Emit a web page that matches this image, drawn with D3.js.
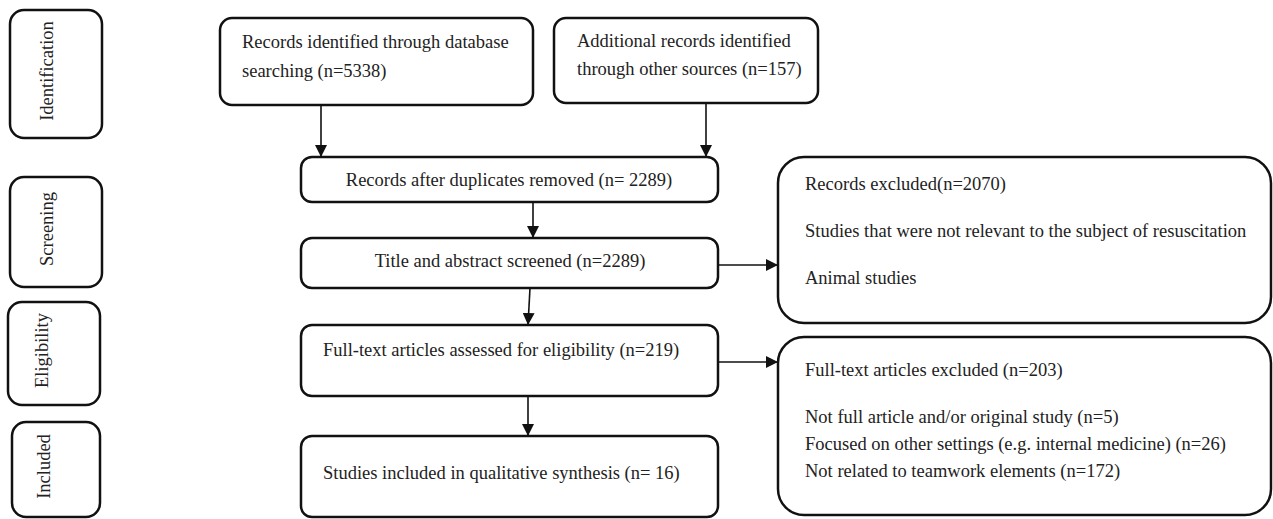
<!DOCTYPE html>
<html>
<head>
<meta charset="utf-8">
<script src="https://cdn.jsdelivr.net/npm/d3@7"></script>
<style>
  body { margin: 0; background: #fff; }
  svg { display: block; }
</style>
</head>
<body>
<div id="chart"></div>
<script>
// ---- content ----
const phaseLabels = ["Identification", "Screening", "Eligibility", "Included"];

const sourceLines = [
  ["Records identified through database", "searching (n=5338)"],
  ["Additional records identified", "through other sources (n=157)"]
];

const flowLabels = [
  "Records after duplicates removed (n= 2289)",
  "Title and abstract screened (n=2289)",
  "Full-text articles assessed for eligibility  (n=219)",
  "Studies included in qualitative synthesis (n= 16)"
];

const exclusionLines = [
  ["Records excluded(n=2070)",
   "Studies that were not relevant to the subject of resuscitation",
   "Animal studies"],
  ["Full-text articles excluded (n=203)",
   "Not full article and/or original study (n=5)",
   "Focused on other settings (e.g. internal medicine) (n=26)",
   "Not related to teamwork elements (n=172)"]
];

// ---- layout ----
const W = 1273, H = 519;
const FONT = "'Liberation Serif', 'Times New Roman', serif";
const FS = 18.5;
const ink = "#111";

const phaseBoxes = [
  {x: 10, y: 10, w: 92, h: 128, tx: 53},
  {x: 10, y: 177, w: 92, h: 110, tx: 53},
  {x: 8, y: 302, w: 92, h: 103, tx: 48},
  {x: 12, y: 422, w: 88, h: 95, tx: 50}
];
const sourceBoxes = [
  {x: 220, y: 18, w: 313, h: 87, tx: 242, ty: [48, 77]},
  {x: 554, y: 18, w: 264, h: 85, tx: 577, ty: [47, 75]}
];
const flowBoxes = [
  {x: 301, y: 157, w: 417, h: 45, anchor: "middle", tx: 509, ty: 186},
  {x: 301, y: 238, w: 417, h: 50, anchor: "middle", tx: 510, ty: 267},
  {x: 301, y: 325, w: 417, h: 71, anchor: "start", tx: 323, ty: 356},
  {x: 301, y: 436, w: 417, h: 81, anchor: "start", tx: 323, ty: 479}
];
const exclusionBoxes = [
  {x: 778, y: 157, w: 493, h: 166, tx: 805, ty: [190, 237, 284]},
  {x: 778, y: 337, w: 493, h: 178, tx: 805, ty: [376, 423, 450, 477]}
];
const arrows = [
  [[321, 105], [321, 157]],
  [[706, 103], [706, 157]],
  [[533, 202], [533, 238]],
  [[530, 288], [528, 325]],
  [[528, 396], [528, 436]],
  [[718, 265], [778, 265]],
  [[718, 362], [778, 362]]
];

const svg = d3.select("#chart").append("svg")
  .attr("width", W)
  .attr("height", H)
  .attr("viewBox", `0 0 ${W} ${H}`);

svg.append("defs").append("marker")
  .attr("id", "head")
  .attr("viewBox", "0 0 10 10")
  .attr("refX", 10).attr("refY", 5)
  .attr("markerWidth", 12).attr("markerHeight", 12)
  .attr("markerUnits", "userSpaceOnUse")
  .attr("orient", "auto")
  .append("path")
  .attr("d", "M0,0 L10,5 L0,10 Z")
  .attr("fill", ink);

function drawBox(b, r) {
  svg.append("rect")
    .attr("x", b.x).attr("y", b.y)
    .attr("width", b.w).attr("height", b.h)
    .attr("rx", r).attr("ry", r)
    .attr("fill", "#fff")
    .attr("stroke", ink)
    .attr("stroke-width", 2.5);
}

// phase boxes with rotated labels
phaseBoxes.forEach((b, i) => {
  drawBox(b, 14);
  const cy = b.y + b.h / 2 - 3;
  svg.append("text")
    .attr("transform", `translate(${b.tx},${cy}) rotate(-90)`)
    .attr("text-anchor", "middle")
    .attr("font-family", FONT)
    .attr("font-size", FS)
    .attr("fill", "#222")
    .text(phaseLabels[i]);
});

sourceBoxes.forEach(b => drawBox(b, 12));
flowBoxes.forEach(b => drawBox(b, 11));
exclusionBoxes.forEach(b => drawBox(b, 26));

// connectors
const line = d3.line();
arrows.forEach(a => {
  svg.append("path")
    .attr("d", line(a))
    .attr("fill", "none")
    .attr("stroke", ink)
    .attr("stroke-width", 1.6)
    .attr("marker-end", "url(#head)");
});

function addText(x, y, str, anchor) {
  svg.append("text")
    .attr("x", x).attr("y", y)
    .attr("text-anchor", anchor || "start")
    .attr("font-family", FONT)
    .attr("font-size", FS)
    .attr("fill", "#222")
    .text(str);
}

sourceBoxes.forEach((b, i) => {
  sourceLines[i].forEach((s, j) => addText(b.tx, b.ty[j], s));
});
flowBoxes.forEach((b, i) => addText(b.tx, b.ty, flowLabels[i], b.anchor));
exclusionBoxes.forEach((b, i) => {
  exclusionLines[i].forEach((s, j) => addText(b.tx, b.ty[j], s));
});
</script>
</body>
</html>
